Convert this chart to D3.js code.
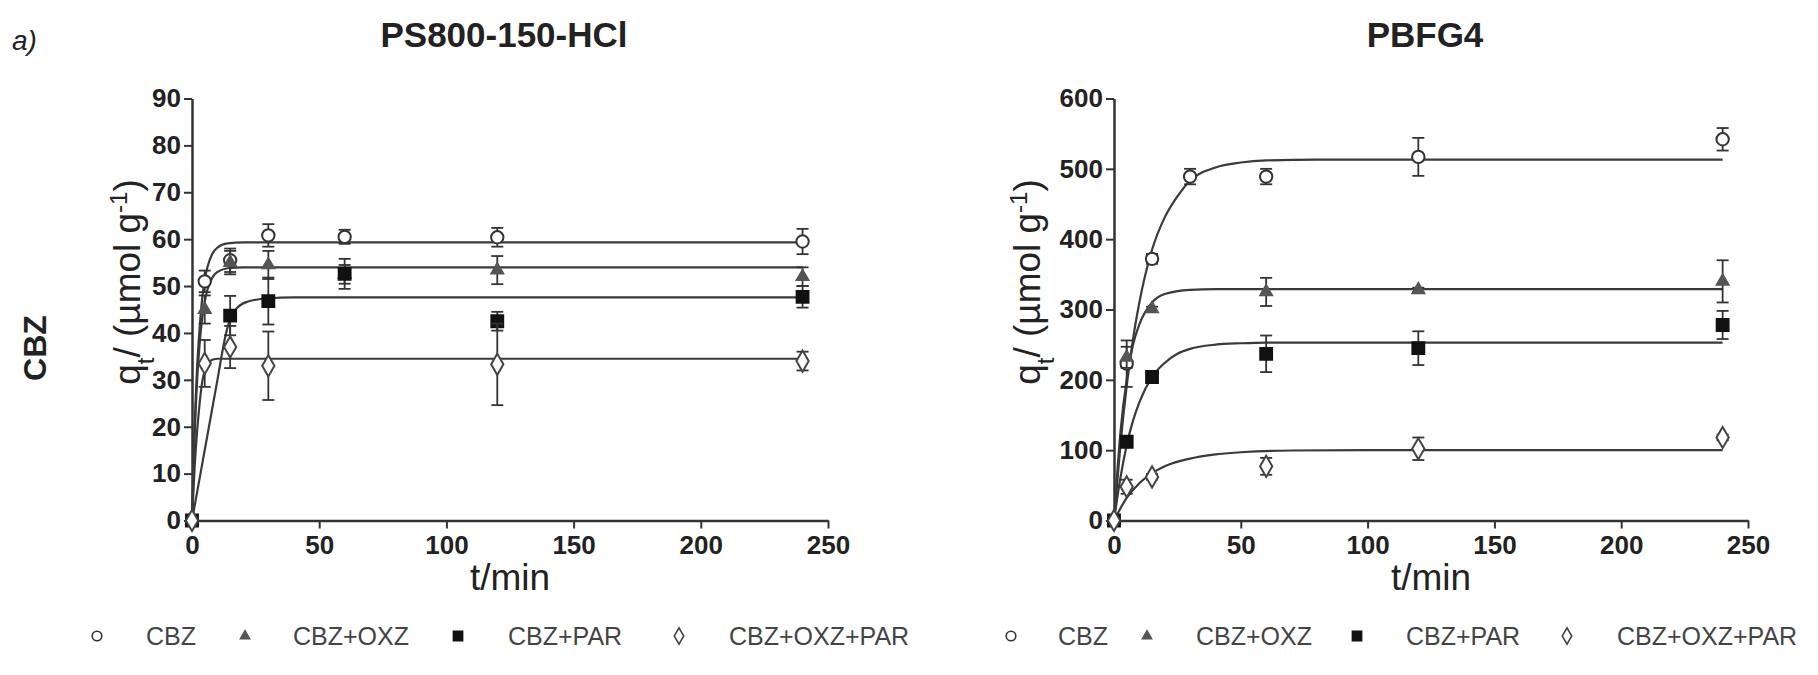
<!DOCTYPE html>
<html>
<head>
<meta charset="utf-8">
<script src="https://cdn.jsdelivr.net/npm/d3@7"></script>
<style>
    body { margin: 0; background: #fff; }
    svg text { font-family: "Liberation Sans", Arial, sans-serif; fill: #222; }
</style>
</head>
<body>
<svg id="chart" width="1818" height="675"></svg>
<script>
// sampling times (min)
var times = [0, 5, 15, 30, 60, 120, 240];
var seriesNames = ['CBZ', 'CBZ+OXZ', 'CBZ+PAR', 'CBZ+OXZ+PAR'];
var xTicks = [0, 50, 100, 150, 200, 250];
var psTicks = [0, 10, 20, 30, 40, 50, 60, 70, 80, 90];
var pbTicks = [0, 100, 200, 300, 400, 500, 600];

// PS800-150-HCl: measured q_t (umol/g) and error, null = not shown
var psCBZ      = [0, 51, 55.5, 60.8, 60.5, 60.4, 59.5];
var psCBZErr   = [0, 2.3, 2.5, 2.4, 1.5, 2, 2.7];
var psOXZ      = [0, 45, 55, 54.5, 52.5, 53.4, 52];
var psOXZErr   = [0, 3, 2.5, 3, 2, 3, 2];
var psPAR      = [0, null, 43.7, 46.8, 52.6, 42.5, 47.7];
var psPARErr   = [0, 0, 4.2, 5, 3.2, 2, 2.3];
var psOXZPAR   = [0, 33.5, 37, 33, null, 33.3, 34];
var psOXZPARErr = [0, 5, 4.5, 7.3, 0, 8.7, 2];

// PBFG4 (t=30 only for CBZ)
var pbCBZ      = [0, 223, 372, 489, 489, 517, 542];
var pbCBZErr   = [0, 33, 7, 11, 11, 27, 16];
var pbOXZ      = [0, 232, 301, null, 325, 328, 340];
var pbOXZErr   = [0, 15, 3, 0, 20, 3, 30];
var pbPAR      = [0, 112, 204, null, 237, 245, 278];
var pbPARErr   = [0, 5, 4, 0, 26, 24, 20];
var pbOXZPAR   = [0, 48, 62, null, 77, 102, 118];
var pbOXZPARErr = [0, 10, 4, 0, 12, 16, 4];

// fitted kinetic curves as [t, q]
var psFitCBZ = [[0,0],[1,19.5],[2,32.6],[3,41],[4,47.3],[5,51.3],[6,53.9],[8,56.9],[10,58.2],[14,59.1],[20,59.3],[240,59.3]];
var psFitOXZ = [[0,0],[1,17.8],[2,29.7],[3,37.7],[4,43.1],[5,46.7],[6,49.1],[8,51.8],[10,53],[14,53.8],[20,54],[240,54]];
var psFitPAR = [[0,0],[5,15],[10,30],[13,39],[15,43],[18,45.5],[22,46.7],[30,47.4],[40,47.6],[240,47.6]];
var psFitOXZPAR = [[0,0],[1,11],[2,19],[3,25],[4,29.5],[5,32],[6,33.5],[8,34.3],[10,34.5],[240,34.5]];

var pbFitCBZ = [[0,0],[2.5,106],[5,191],[7.5,258],[10,310],[15,385],[20,431],[25,461],[30,483],[40,502],[50,509],[60,512],[80,513],[240,513]];
var pbFitOXZ = [[0,0],[2.5,124],[5,201],[7.5,250],[10,279],[15,310],[20,322],[30,328],[40,329],[240,329]];
var pbFitPAR = [[0,0],[2.5,60],[5,107],[7.5,142],[10,168],[15,204],[20,224],[25,237],[30,244],[40,250],[50,252],[60,253],[240,253]];
var pbFitOXZPAR = [[0,0],[5,32],[10,53],[15,67],[20,77],[30,88],[40,94],[50,97],[70,99.5],[100,100],[240,100]];

var svg = d3.select('#chart');

var markerStyles = [
    {type: d3.symbolCircle,   size: 120, fill: '#fff', stroke: '#333'},
    {type: d3.symbolTriangle, size: 60,  fill: '#555', stroke: '#555'},
    {type: d3.symbolSquare,   size: 140, fill: '#111', stroke: '#111'},
    {type: d3.symbolDiamond,  size: 130, fill: '#fff', stroke: '#444'}
];

var panels = [
    {
        title: 'PS800-150-HCl', left: 192, right: 828, yMax: 90, yTicks: psTicks,
        values: [psCBZ, psOXZ, psPAR, psOXZPAR],
        errors: [psCBZErr, psOXZErr, psPARErr, psOXZPARErr],
        fits: [psFitCBZ, psFitOXZ, psFitPAR, psFitOXZPAR],
        labelX: 140,
        legendMarks: [97, 245, 458, 679], legendTexts: [146, 293, 508, 729]
    },
    {
        title: 'PBFG4', left: 1114, right: 1748, yMax: 600, yTicks: pbTicks,
        values: [pbCBZ, pbOXZ, pbPAR, pbOXZPAR],
        errors: [pbCBZErr, pbOXZErr, pbPARErr, pbOXZPARErr],
        fits: [pbFitCBZ, pbFitOXZ, pbFitPAR, pbFitOXZPAR],
        labelX: 1040,
        legendMarks: [1011, 1147, 1357, 1567], legendTexts: [1058, 1196, 1406, 1617]
    }
];

var plotTop = 98.5, plotBottom = 520.5;

panels.forEach(function(p) {
    var x = d3.scaleLinear().domain([0, 250]).range([p.left, p.right]);
    var y = d3.scaleLinear().domain([0, p.yMax]).range([plotBottom, plotTop]);
    var cx = (p.left + p.right) / 2;

    // axes
    var gx = svg.append('g')
        .attr('transform', 'translate(0,' + plotBottom + ')')
        .call(d3.axisBottom(x).tickValues(xTicks).tickSize(8).tickSizeOuter(0).tickPadding(7));
    var gy = svg.append('g')
        .attr('transform', 'translate(' + p.left + ',0)')
        .call(d3.axisLeft(y).tickValues(p.yTicks).tickSize(8).tickSizeOuter(0).tickPadding(3));
    [gx, gy].forEach(function(g) {
        g.select('.domain').attr('stroke', '#333').attr('stroke-width', 2.5);
        g.selectAll('.tick line').attr('stroke', '#333').attr('stroke-width', 2);
        g.selectAll('.tick text')
            .style('font-family', '"Liberation Sans", Arial, sans-serif')
            .style('font-weight', 'bold')
            .style('font-size', '26px')
            .style('fill', '#222');
    });

    // fitted curves
    var line = d3.line()
        .x(function(d) { return x(d[0]); })
        .y(function(d) { return y(d[1]); })
        .curve(d3.curveMonotoneX);
    p.fits.forEach(function(f) {
        svg.append('path')
            .datum(f)
            .attr('d', line)
            .attr('fill', 'none')
            .attr('stroke', '#3a3a3a')
            .attr('stroke-width', 2.2);
    });

    // error bars + markers
    p.values.forEach(function(vals, si) {
        var errs = p.errors[si];
        var pts = times.map(function(t, i) { return {t: t, v: vals[i], e: errs[i]}; })
            .filter(function(d) { return d.v !== null; });
        var eg = svg.append('g').attr('stroke', '#333').attr('stroke-width', 1.8);
        pts.filter(function(d) { return d.e > 0; }).forEach(function(d) {
            var px = x(d.t), y0 = y(d.v - d.e), y1 = y(d.v + d.e);
            eg.append('line').attr('x1', px).attr('x2', px).attr('y1', y0).attr('y2', y1);
            eg.append('line').attr('x1', px - 6).attr('x2', px + 6).attr('y1', y0).attr('y2', y0);
            eg.append('line').attr('x1', px - 6).attr('x2', px + 6).attr('y1', y1).attr('y2', y1);
        });
        var m = markerStyles[si];
        svg.append('g').selectAll('path')
            .data(pts)
            .enter().append('path')
            .attr('transform', function(d) { return 'translate(' + x(d.t) + ',' + y(d.v) + ')'; })
            .attr('d', d3.symbol().type(m.type).size(m.size))
            .attr('fill', m.fill)
            .attr('stroke', m.stroke)
            .attr('stroke-width', 2);
    });

    // title
    svg.append('text')
        .attr('x', cx - 6).attr('y', 47)
        .attr('text-anchor', 'middle')
        .style('font-weight', 'bold')
        .style('font-size', '35px')
        .text(p.title);

    // x label
    svg.append('text')
        .attr('x', cx).attr('y', 590)
        .attr('text-anchor', 'middle')
        .style('font-size', '37px')
        .text('t/min');

    // y label
    var yl = svg.append('text')
        .attr('transform', 'translate(' + p.labelX + ',' + 282 + ') rotate(-90)')
        .attr('text-anchor', 'middle')
        .style('font-size', '37px');
    yl.append('tspan').text('q');
    yl.append('tspan').attr('baseline-shift', 'sub').style('font-size', '24px').text('t');
    yl.append('tspan').text('/ (\u00b5mol g');
    yl.append('tspan').attr('baseline-shift', 'super').style('font-size', '24px').text('-1');
    yl.append('tspan').text(')');

    // legend
    seriesNames.forEach(function(name, si) {
        var m = markerStyles[si];
        svg.append('path')
            .attr('transform', 'translate(' + p.legendMarks[si] + ',636)')
            .attr('d', d3.symbol().type(m.type).size(m.size * 0.6))
            .attr('fill', m.fill)
            .attr('stroke', m.stroke)
            .attr('stroke-width', 1.6);
        svg.append('text')
            .attr('x', p.legendTexts[si]).attr('y', 645)
            .style('font-size', '25px')
            .style('fill', '#444')
            .text(name);
    });
});

// panel tag and row label
svg.append('text')
    .attr('x', 12).attr('y', 50)
    .style('font-style', 'italic')
    .style('font-size', '28px')
    .text('a)');

svg.append('text')
    .attr('transform', 'translate(46,348) rotate(-90)')
    .attr('text-anchor', 'middle')
    .style('font-weight', 'bold')
    .style('font-size', '32px')
    .text('CBZ');
</script>
</body>
</html>
